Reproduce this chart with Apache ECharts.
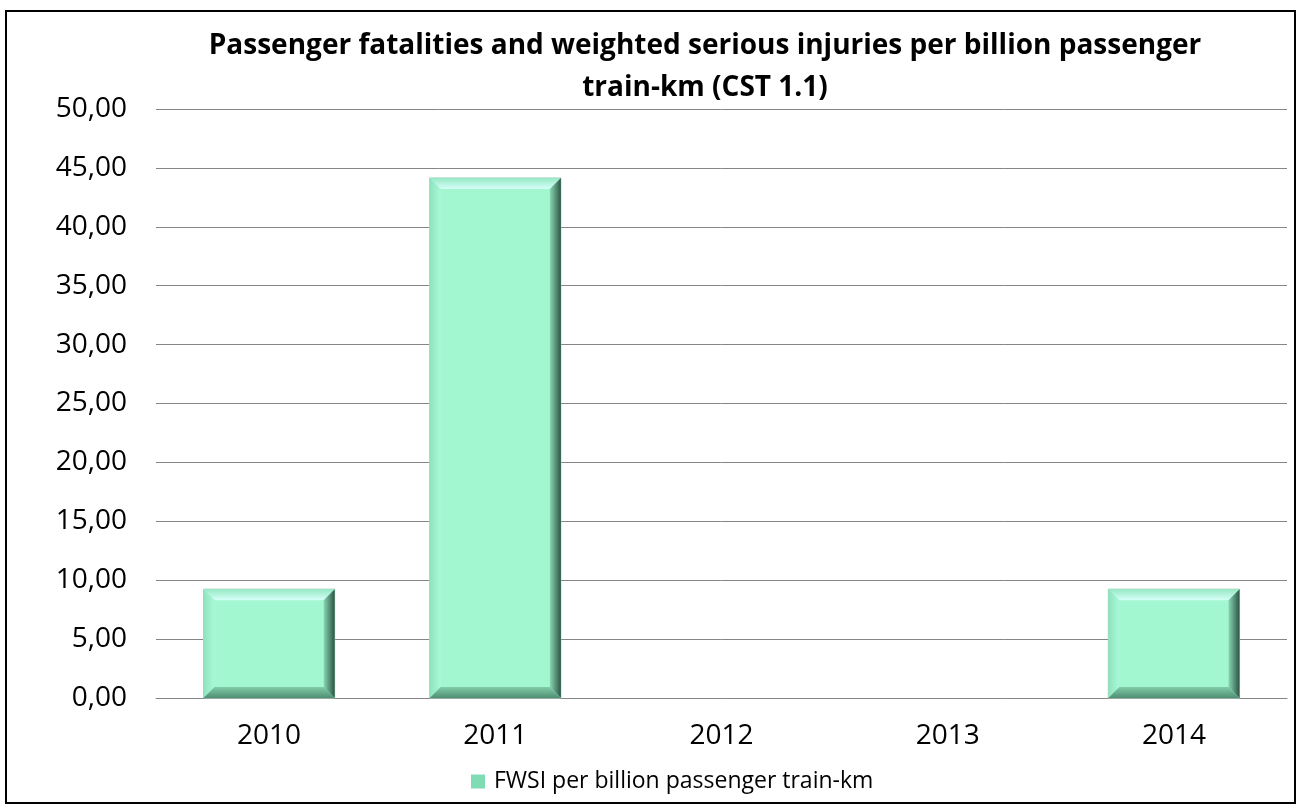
<!DOCTYPE html>
<html><head><meta charset="utf-8">
<script src="https://cdn.jsdelivr.net/npm/echarts@6/dist/echarts.min.js"></script>
<style>html,body{margin:0;padding:0;background:#fff}#c{width:1305px;height:810px}
#frame{position:absolute;left:5px;top:10px;width:1291px;height:794px;border:2px solid #000;box-sizing:border-box;pointer-events:none}</style>
</head><body><div id="c"></div><div id="frame"></div>
<script>
const titleText = 'Passenger fatalities and weighted serious injuries per billion passenger\ntrain-km (CST 1.1)';
const seriesName = 'FWSI per billion passenger train-km';
const categories = ['2010', '2011', '2012', '2013', '2014'];
const values = [9.24, 44.15, 0, 0, 9.24];
const yMin = 0, yMax = 50, yStep = 5;

const FONT = '"Open Sans", "Noto Sans", sans-serif';
const chart = echarts.init(document.getElementById('c'));

function renderBar(params, api) {
  const v = api.value(1);
  if (!v) return null;
  const top = api.coord([api.value(0), v]);
  const bot = api.coord([api.value(0), 0]);
  const w = api.size([1, 0])[0] * 0.58;
  const l = top[0] - w / 2, r = top[0] + w / 2, t = top[1], b = bot[1];
  const d = Math.min(11, (b - t) / 2);
  return {
    type: 'group',
    children: [
      {type: 'rect', shape: {x: l, y: t, width: w, height: b - t}, style: {fill: '#a2f7d1', stroke: '#a9cfbd', lineWidth: 1}},
      {type: 'polygon', shape: {points: [[l, t], [r, t], [r - d, t + d], [l + d, t + d]]},
        style: {fill: new echarts.graphic.LinearGradient(0, 0, 0, 1, [{offset: 0, color: '#95e8c4'}, {offset: 1, color: '#d6fff8'}])}},
      {type: 'polygon', shape: {points: [[l, t], [l + d, t + d], [l + d, b - d], [l, b]]},
        style: {fill: new echarts.graphic.LinearGradient(0, 0, 1, 0, [{offset: 0, color: '#8ee2bd'}, {offset: 1, color: '#a8fad6'}])}},
      {type: 'polygon', shape: {points: [[r, t], [r, b], [r - d, b - d], [r - d, t + d]]},
        style: {fill: new echarts.graphic.LinearGradient(0, 0, 1, 0, [{offset: 0, color: '#88d6b2'}, {offset: 1, color: '#2c5545'}])}},
      {type: 'polygon', shape: {points: [[l, b], [r, b], [r - d, b - d], [l + d, b - d]]},
        style: {fill: new echarts.graphic.LinearGradient(0, 0, 0, 1, [{offset: 0, color: '#80cca8'}, {offset: 1, color: '#4f8f74'}])}}
    ]
  };
}

chart.setOption({
  animation: false,
  title: {
    text: titleText, left: 700, textAlign: 'center', top: 20,
    textStyle: {fontFamily: FONT, fontWeight: 'bold', fontSize: 28, color: '#000', lineHeight: 42}
  },
  legend: {
    data: [seriesName], top: 765, left: 466, icon: 'rect', itemWidth: 14, itemHeight: 14, itemGap: 6,
    textStyle: {fontFamily: FONT, fontSize: 23, color: '#000', padding: [0, 0, 0, 4]}
  },
  grid: {left: 156, right: 18, top: 109, bottom: 112, containLabel: false},
  xAxis: {
    type: 'category', data: categories,
    axisLine: {lineStyle: {color: '#868686', width: 1}},
    axisTick: {show: false},
    axisLabel: {fontFamily: FONT, fontSize: 28, color: '#000', margin: 24}
  },
  yAxis: {
    type: 'value', min: yMin, max: yMax, interval: yStep,
    axisLine: {show: false}, axisTick: {show: false},
    splitLine: {lineStyle: {color: '#868686', width: 1}},
    axisLabel: {fontFamily: FONT, fontSize: 28, color: '#000', margin: 29,
      formatter: v => v.toFixed(2).replace('.', ',')}
  },
  series: [{
    name: seriesName, type: 'custom', renderItem: renderBar,
    itemStyle: {color: '#7fdcb4'},
    encode: {x: 0, y: 1},
    data: categories.map((c, i) => [i, values[i]])
  }]
});
</script></body></html>
